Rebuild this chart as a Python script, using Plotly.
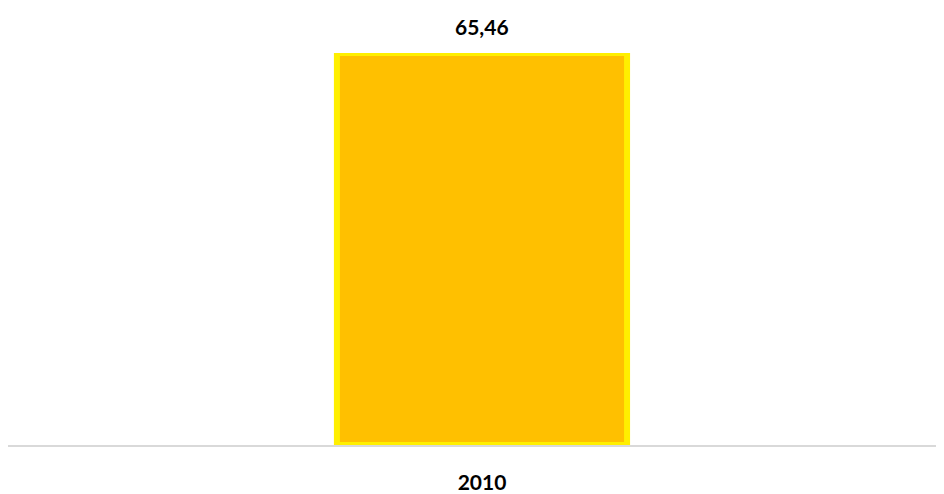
import plotly.graph_objects as go

categories = ["2010"]
values = [65.46]
value_labels = ["65,46"]

fig = go.Figure()
fig.add_trace(go.Bar(
    x=categories, y=values, width=0.31,
    marker=dict(color="#FFC000", line=dict(color="#FFEF00", width=6)),
    hoverinfo="skip",
))
for i, (v, t) in enumerate(zip(values, value_labels)):
    fig.add_annotation(x=i, y=v, text="<b>%s</b>" % t, showarrow=False,
                       xref="x", yref="y", yanchor="middle", yshift=27,
                       font=dict(family="Lato", size=21, color="#000000"))

fig.update_layout(
    width=936, height=486,
    margin=dict(l=0, r=0, t=45, b=45),
    paper_bgcolor="white", plot_bgcolor="white",
    showlegend=False,
    xaxis=dict(type="category", range=[-0.5064, 0.4936], showline=True,
               linecolor="#D9D9D9", linewidth=2, showgrid=False, ticks="",
               tickfont=dict(family="Lato", size=21, color="#000000"),
               ticklabelstandoff=18, tickprefix="<b>", ticksuffix="</b>"),
    yaxis=dict(range=[0, 65.46], visible=False, showgrid=False, zeroline=False),
)
fig.write_html("out.html")
